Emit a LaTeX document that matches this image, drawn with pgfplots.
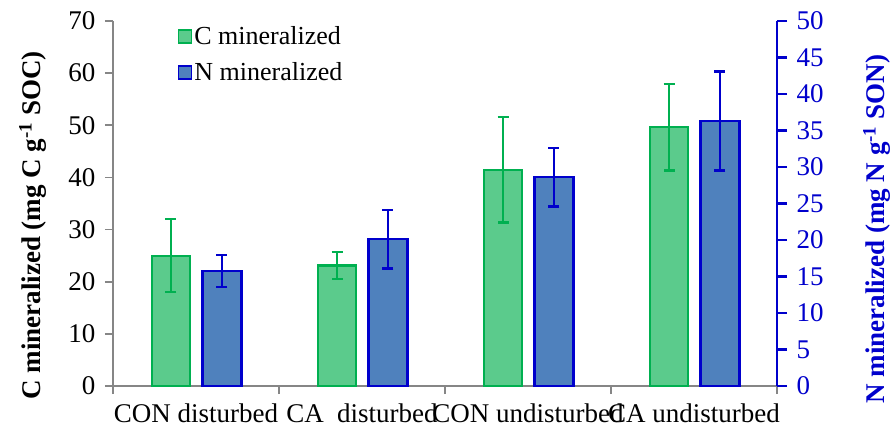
\documentclass[border=0pt]{standalone}
\usepackage{fontspec}
\setmainfont{Liberation Serif}
\usepackage{pgfplots}
\pgfplotsset{compat=1.18}
\definecolor{gfill}{HTML}{5BCB8C}
\definecolor{gedge}{HTML}{00B050}
\definecolor{bfill}{HTML}{4F81BD}
\definecolor{bedge}{HTML}{0000CC}
\definecolor{axgrey}{HTML}{868686}
\begin{document}
\begin{tikzpicture}[font=\fontsize{27}{31}\selectfont]
\path[use as bounding box] (-113pt,-51pt) rectangle (779pt,386pt);
\begin{axis}[
  scale only axis, width=664pt, height=365pt,
  at={(0,0)}, anchor=south west,
  xmin=-0.5, xmax=3.5, ymin=0, ymax=70,
  axis x line*=bottom, axis y line*=left,
  axis line style={axgrey, line width=1.8pt},
  every tick/.style={axgrey, line width=1.8pt},
  tick align=outside, major tick length=8pt,
  ytick={0,10,...,70},
  xtick={-0.5,0.5,1.5,2.5,3.5},
  xticklabels={CON disturbed, CA\ \ disturbed, CON undisturbed, CA undisturbed, {}},
  x tick label style={xshift=83pt, yshift=-6pt},
  tick label style={font=\fontsize{27}{31}\selectfont},
  yticklabel style={xshift=-6pt},
  /pgf/number format/assume math mode=true,
  every axis y label/.style={at={(axis description cs:-0.1205,0.44)}, rotate=90, anchor=center},
  ylabel={\bfseries C mineralized (mg C g\textsuperscript{-1} SOC)},
  legend style={draw=none, fill=none, at={(axis description cs:0.097,0.99)}, anchor=north west, inner sep=0pt, row sep=12pt, font=\fontsize{26}{30}\selectfont},
  legend cell align=left,
]
\addplot[ybar, bar width=38pt, bar shift=0pt, fill=gfill, draw=gedge, line width=2.2pt,
  legend image code/.code={\draw[fill=gfill, draw=gedge, line width=1.8pt] (0pt,-6.5pt) rectangle (13pt,6.5pt);},
  error bars/.cd, y dir=both, y explicit,
  error bar style={gedge, line width=2.6pt},
  error mark options={rotate=90, mark size=5.5pt, gedge, line width=2.6pt},
  ]
  coordinates {(-0.1506,25.0) +- (0,7.0) (0.8494,23.1) +- (0,2.6) (1.8494,41.5) +- (0,10.1) (2.8494,49.6) +- (0,8.3)};
\addlegendentry{C mineralized}
\addlegendimage{legend image code/.code={\draw[fill=bfill, draw=bedge, line width=1.8pt] (0pt,-6.5pt) rectangle (13pt,6.5pt);}}
\addlegendentry{N mineralized}
\end{axis}
\begin{axis}[
  scale only axis, width=664pt, height=365pt,
  at={(0,0)}, anchor=south west,
  xmin=-0.5, xmax=3.5, ymin=0, ymax=50,
  axis x line=none, axis y line*=right,
  axis line style={bedge, line width=2.2pt},
  every tick/.style={bedge, line width=2.2pt},
  tick align=outside, major tick length=10pt,
  ytick={0,5,...,50},
  yticklabel style={bedge, font=\fontsize{27}{31}\selectfont, xshift=6pt},
  /pgf/number format/assume math mode=true,
  every axis y label/.style={at={(axis description cs:1.1506,0.43)}, rotate=90, anchor=center},
  ylabel={\color{bedge}\bfseries N mineralized (mg N g\textsuperscript{-1} SON)},
]
\addplot[ybar, bar width=39pt, bar shift=0pt, fill=bfill, draw=bedge, line width=2.2pt,
  error bars/.cd, y dir=both, y explicit,
  error bar style={bedge, line width=2.6pt},
  error mark options={rotate=90, mark size=5.5pt, bedge, line width=2.6pt},
  ]
  coordinates {(0.1566,15.75) +- (0,2.2) (1.1566,20.1) +- (0,4.0) (2.1566,28.6) +- (0,4.0) (3.1566,36.3) +- (0,6.8)};
\end{axis}
\end{tikzpicture}
\end{document}
